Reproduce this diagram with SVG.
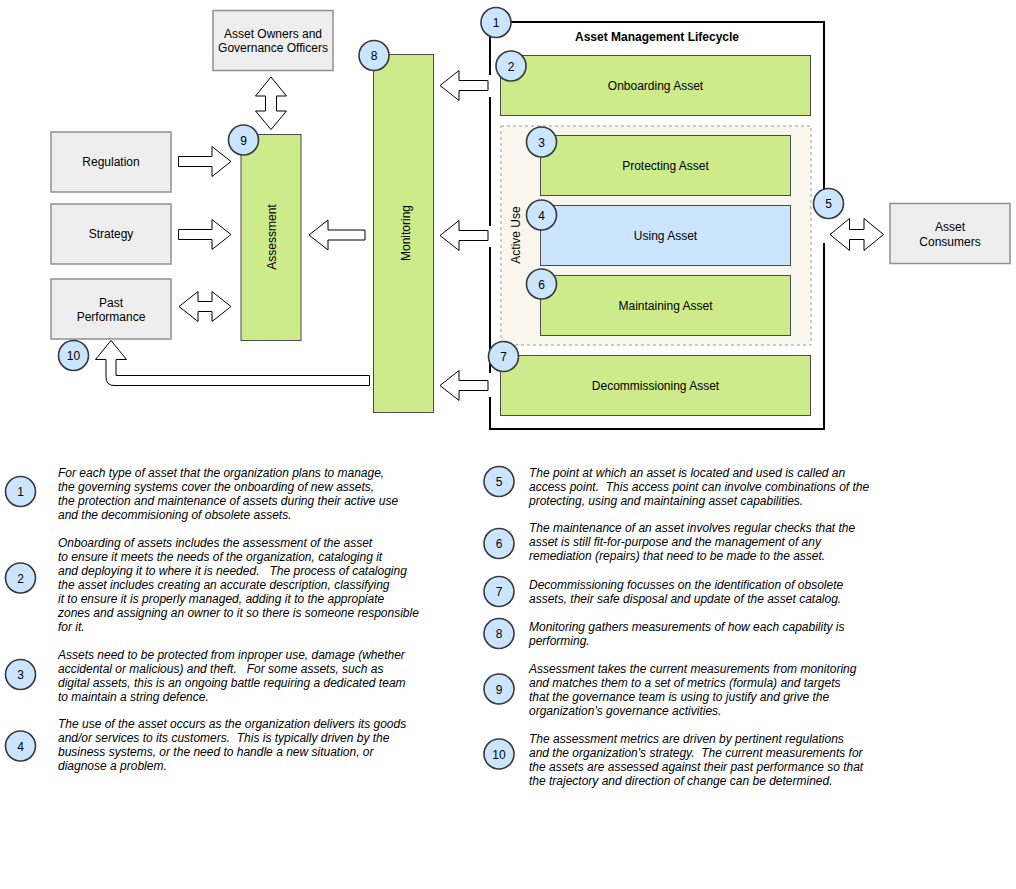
<svg xmlns="http://www.w3.org/2000/svg" width="1016" height="889" viewBox="0 0 1016 889">
<style>
text{font-family:"Liberation Sans",Arial,Helvetica,sans-serif;font-size:12px;fill:#000}
.c{text-anchor:middle}
.b{font-weight:bold}
.d{font-style:italic}
.gray{fill:#eeeeee;stroke:#909090;stroke-width:1.5}
.green{fill:#cdeb8b;stroke:#4a4a4a;stroke-width:1}
.blue{fill:#cce5ff;stroke:#4a4a4a;stroke-width:1}
.num{fill:#cce5ff;stroke:#36393d;stroke-width:1.6}
.arr{fill:#ffffff;stroke:#000;stroke-width:1}
</style>
<rect width="1016" height="889" fill="#ffffff"/>

<g id="lifecycle">
<rect x="490" y="22" width="334" height="407" fill="#ffffff" stroke="#000" stroke-width="2"/>
<rect x="487" y="75" width="6" height="22" fill="#ffffff"/>
<rect x="487" y="226" width="6" height="21" fill="#ffffff"/>
<rect x="487" y="373" width="6" height="24" fill="#ffffff"/>
<rect x="821" y="218" width="6" height="25" fill="#ffffff"/>
<text class="c b" x="657" y="41">Asset Management Lifecycle</text>
</g>

<g id="active-use">
<rect x="501" y="126" width="310" height="219" fill="#f9f7ed" stroke="#999999" stroke-width="1" stroke-dasharray="3,3"/>
<text class="c" transform="translate(520,235) rotate(-90)">Active Use</text>
</g>

<g id="onboarding"><rect class="green" x="500.5" y="55.5" width="310" height="60"/><text class="c" x="655.5" y="89.5">Onboarding Asset</text></g>
<g id="protecting"><rect class="green" x="540.5" y="135.5" width="250" height="60"/><text class="c" x="665.5" y="169.5">Protecting Asset</text></g>
<g id="using"><rect class="blue" x="540.5" y="205.5" width="250" height="60"/><text class="c" x="665.5" y="239.5">Using Asset</text></g>
<g id="maintaining"><rect class="green" x="540.5" y="275.5" width="250" height="60"/><text class="c" x="665.5" y="309.5">Maintaining Asset</text></g>
<g id="decommissioning"><rect class="green" x="500.5" y="355.5" width="310" height="60"/><text class="c" x="655.5" y="389.5">Decommissioning Asset</text></g>

<g id="monitoring"><rect class="green" x="373.5" y="54.5" width="60" height="358"/><text class="c" transform="translate(409.5,233) rotate(-90)">Monitoring</text></g>
<g id="assessment"><rect class="green" x="241" y="134.5" width="60" height="206"/><text class="c" transform="translate(276,237) rotate(-90)">Assessment</text></g>

<g id="owners"><rect class="gray" x="213" y="10.5" width="120" height="60"/><text class="c" x="273" y="37.5">Asset Owners and</text><text class="c" x="273" y="51.5">Governance Officers</text></g>
<g id="regulation"><rect class="gray" x="51" y="132" width="120" height="60"/><text class="c" x="111" y="166">Regulation</text></g>
<g id="strategy"><rect class="gray" x="51" y="204" width="120" height="60"/><text class="c" x="111" y="238">Strategy</text></g>
<g id="past"><rect class="gray" x="51" y="279" width="120" height="60"/><text class="c" x="111" y="306.5">Past</text><text class="c" x="111" y="320.5">Performance</text></g>
<g id="consumers"><rect class="gray" x="890" y="203.5" width="120" height="60"/><text class="c" x="950" y="230.5">Asset</text><text class="c" x="950" y="245.5">Consumers</text></g>

<g id="connectors">
<polygon class="arr" points="440,85.5 459,70.5 459,80.5 488,80.5 488,90.5 459,90.5 459,100.5"/>
<polygon class="arr" points="440,235.5 459,220.5 459,230.5 488,230.5 488,240.5 459,240.5 459,250.5"/>
<polygon class="arr" points="440,385.5 459,370.5 459,380.5 488,380.5 488,390.5 459,390.5 459,400.5"/>
<polygon class="arr" points="309,235 328,220 328,230 365,230 365,240 328,240 328,250"/>
<polygon class="arr" points="231,161.5 212,146.5 212,156.5 178.5,156.5 178.5,166.5 212,166.5 212,176.5"/>
<polygon class="arr" points="231,234.5 212,219.5 212,229.5 178.5,229.5 178.5,239.5 212,239.5 212,249.5"/>
<polygon class="arr" points="179,306.5 198,291.5 198,301.5 212,301.5 212,291.5 231,306.5 212,321.5 212,311.5 198,311.5 198,321.5"/>
<polygon class="arr" points="271,77 286.5,96 276.5,96 276.5,111 286.5,111 271,129.5 255.5,111 265.5,111 265.5,96 255.5,96"/>
<polygon class="arr" points="830,234.5 849.5,218.5 849.5,229.5 864,229.5 864,218.5 883.5,234.5 864,250.5 864,239.5 849.5,239.5 849.5,250.5"/>
<path class="arr" d="M369.5,375.5 L116,375.5 L116,359.5 L126.5,359.5 L111,340.5 L95.5,359.5 L106,359.5 L106,377 Q106,385.5 114,385.5 L369.5,385.5 Z"/>
</g>

<g id="markers">
<circle class="num" cx="496" cy="22.5" r="15"/><text class="c" x="496" y="27">1</text>
<circle class="num" cx="511" cy="66" r="15"/><text class="c" x="511" y="70.5">2</text>
<circle class="num" cx="541.5" cy="142" r="15"/><text class="c" x="541.5" y="146.5">3</text>
<circle class="num" cx="541.5" cy="215" r="15"/><text class="c" x="541.5" y="219.5">4</text>
<circle class="num" cx="828.5" cy="203.5" r="15"/><text class="c" x="828.5" y="208">5</text>
<circle class="num" cx="541.5" cy="284" r="15"/><text class="c" x="541.5" y="288.5">6</text>
<circle class="num" cx="503.5" cy="356.5" r="15"/><text class="c" x="503.5" y="361">7</text>
<circle class="num" cx="374" cy="55.5" r="15"/><text class="c" x="374" y="60">8</text>
<circle class="num" cx="243.5" cy="140" r="15"/><text class="c" x="243.5" y="144.5">9</text>
<circle class="num" cx="73.5" cy="355.5" r="15"/><text class="c" x="73.5" y="360">10</text>
</g>

<g id="notes">
<g id="note1"><circle class="num" cx="20.5" cy="491.5" r="15"/><text class="c" x="20.5" y="496">1</text>
<text class="d" x="58" y="477">For each type of asset that the organization plans to manage,</text>
<text class="d" x="58" y="491">the governing systems cover the onboarding of new assets,</text>
<text class="d" x="58" y="505">the protection and maintenance of assets during their active use</text>
<text class="d" x="58" y="519">and the decommisioning of obsolete assets.</text></g>
<g id="note2"><circle class="num" cx="20.5" cy="578" r="15"/><text class="c" x="20.5" y="582.5">2</text>
<text class="d" x="58" y="547">Onboarding of assets includes the assessment of the asset</text>
<text class="d" x="58" y="561">to ensure it meets the needs of the organization, cataloging it</text>
<text class="d" x="58" y="575" xml:space="preserve">and deploying it to where it is needed.   The process of cataloging</text>
<text class="d" x="58" y="589">the asset includes creating an accurate description, classifying</text>
<text class="d" x="58" y="603">it to ensure it is properly managed, adding it to the appropiate</text>
<text class="d" x="58" y="617">zones and assigning an owner to it so there is someone responsible</text>
<text class="d" x="58" y="631">for it.</text></g>
<g id="note3"><circle class="num" cx="20.5" cy="674.5" r="15"/><text class="c" x="20.5" y="679">3</text>
<text class="d" x="58" y="659">Assets need to be protected from inproper use, damage (whether</text>
<text class="d" x="58" y="673" xml:space="preserve">accidental or malicious) and theft.   For some assets, such as</text>
<text class="d" x="58" y="687">digital assets, this is an ongoing battle requiring a dedicated team</text>
<text class="d" x="58" y="701">to maintain a string defence.</text></g>
<g id="note4"><circle class="num" cx="20.5" cy="746" r="15"/><text class="c" x="20.5" y="750.5">4</text>
<text class="d" x="58" y="728">The use of the asset occurs as the organization delivers its goods</text>
<text class="d" x="58" y="742" xml:space="preserve">and/or services to its customers.  This is typically driven by the</text>
<text class="d" x="58" y="756">business systems, or the need to handle a new situation, or</text>
<text class="d" x="58" y="770">diagnose a problem.</text></g>
<g id="note5"><circle class="num" cx="499" cy="481.5" r="15"/><text class="c" x="499" y="486">5</text>
<text class="d" x="529" y="477">The point at which an asset is located and used is called an</text>
<text class="d" x="529" y="491" xml:space="preserve">access point.  This access point can involve combinations of the</text>
<text class="d" x="529" y="505">protecting, using and maintaining asset capabilities.</text></g>
<g id="note6"><circle class="num" cx="499" cy="543.5" r="15"/><text class="c" x="499" y="548">6</text>
<text class="d" x="529" y="532">The maintenance of an asset involves regular checks that the</text>
<text class="d" x="529" y="546">asset is still fit-for-purpose and the management of any</text>
<text class="d" x="529" y="560">remediation (repairs) that need to be made to the asset.</text></g>
<g id="note7"><circle class="num" cx="499" cy="591.5" r="15"/><text class="c" x="499" y="596">7</text>
<text class="d" x="529" y="589">Decommissioning focusses on the identification of obsolete</text>
<text class="d" x="529" y="603">assets, their safe disposal and update of the asset catalog.</text></g>
<g id="note8"><circle class="num" cx="499" cy="633.5" r="15"/><text class="c" x="499" y="638">8</text>
<text class="d" x="529" y="631">Monitoring gathers measurements of how each capability is</text>
<text class="d" x="529" y="645">performing.</text></g>
<g id="note9"><circle class="num" cx="499" cy="689" r="15"/><text class="c" x="499" y="693.5">9</text>
<text class="d" x="529" y="673">Assessment takes the current measurements from monitoring</text>
<text class="d" x="529" y="687">and matches them to a set of metrics (formula) and targets</text>
<text class="d" x="529" y="701">that the governance team is using to justify and grive the</text>
<text class="d" x="529" y="715">organization's governance activities.</text></g>
<g id="note10"><circle class="num" cx="499" cy="754" r="15"/><text class="c" x="499" y="758.5">10</text>
<text class="d" x="529" y="743">The assessment metrics are driven by pertinent regulations</text>
<text class="d" x="529" y="757" xml:space="preserve">and the organization's strategy.  The current measurements for</text>
<text class="d" x="529" y="771">the assets are assessed against their past performance so that</text>
<text class="d" x="529" y="785">the trajectory and direction of change can be determined.</text></g>
</g>
</svg>
